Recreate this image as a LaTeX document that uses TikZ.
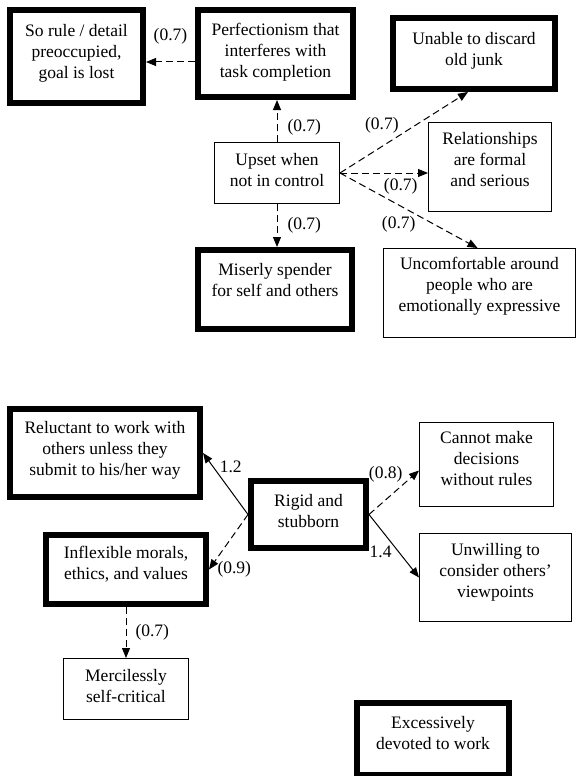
\documentclass[tikz,border=0pt]{standalone}
\usepackage{fontspec}
\setmainfont{Liberation Serif}
\usetikzlibrary{arrows.meta,positioning}

\begin{document}
\begin{tikzpicture}[x=1pt, y=-1pt,
  every node/.style={font=\fontsize{17.5}{21}\selectfont},
  b/.style={draw, align=center, inner sep=0pt, line width=1pt},
  hb/.style={b, line width=6pt},
  lab/.style={inner sep=1pt},
  da/.style={line width=1pt, dash pattern=on 7pt off 4pt, -{Triangle[length=10pt,width=8pt]}},
  sa/.style={line width=1pt, -{Triangle[length=10pt,width=8pt]}}]
  \useasboundingbox (0,0) rectangle (576,776);

  % upper cluster
  \node[hb, minimum width=133pt, minimum height=93pt, text depth=10pt] (rule) at (76.5,56.5) {So rule / detail\\preoccupied,\\goal is lost};
  \node[hb, minimum width=155pt, minimum height=87pt, text depth=6pt] (perf) at (275.5,53.5) {Perfectionism that\\interferes with\\task completion};
  \node[hb, minimum width=162pt, minimum height=71pt, text depth=10pt] (junk) at (474,53.5) {Unable to discard\\old junk};
  \node[b, minimum width=125pt, minimum height=61pt, text depth=6pt] (upset) at (277,173) {Upset when\\not in control};
  \node[b, minimum width=123pt, minimum height=89pt, text depth=16pt] (rel) at (490,167) {Relationships\\are formal\\and serious};
  \node[hb, minimum width=154pt, minimum height=79pt, text depth=20pt] (miser) at (275,289.5) {Miserly spender\\for self and others};
  \node[b, minimum width=192pt, minimum height=89pt, text depth=18pt] (uncomf) at (479.5,293) {Uncomfortable around\\people who are\\emotionally expressive};

  \draw[da] ([yshift=-8.5pt]perf.west) -- ([yshift=-5.5pt]rule.east) node[midway, above=16pt, lab] {(0.7)};
  \draw[da] (upset.north) -- (upset.north |- perf.south) node[pos=0.35, right=9pt, lab] {(0.7)};
  \draw[da] (upset.east) -- ([xshift=-6pt]junk.south) node[pos=0.47, anchor=south east, lab] {(0.7)};
  \draw[da] (upset.east) -- (upset.east -| rel.west) node[pos=0.69, below=4pt, lab] {(0.7)};
  \draw[da] (upset.east) -- ([xshift=-2pt]uncomf.north) node[pos=0.56, anchor=north east, lab] {(0.7)};
  \draw[da] (upset.south) -- (upset.south |- miser.north) node[midway, right=9pt, lab] {(0.7)};

  % lower cluster
  \node[hb, minimum width=190pt, minimum height=88pt, text depth=10pt] (reluct) at (105,453) {Reluctant to work with\\others unless they\\submit to his/her way};
  \node[hb, minimum width=160pt, minimum height=69pt, text depth=14pt] (inflex) at (126,569.5) {Inflexible morals,\\ethics, and values};
  \node[hb, minimum width=115pt, minimum height=67pt, text depth=8pt] (rigid) at (308.5,514.5) {Rigid and\\stubborn};
  \node[b, minimum width=134pt, minimum height=84pt, text depth=12pt] (cannot) at (486.5,464.5) {Cannot make\\decisions\\without rules};
  \node[b, minimum width=152pt, minimum height=88pt, text depth=14pt] (unwill) at (495.5,577.5) {Unwilling to\\consider others'\\viewpoints};
  \node[b, minimum width=125pt, minimum height=61pt, text depth=6pt] (merci) at (126,689) {Mercilessly\\self-critical};
  \node[hb, minimum width=152pt, minimum height=72pt, text depth=12pt] (excess) at (433,739) {Excessively\\devoted to work};

  \draw[sa] (rigid.west) -- (reluct.east) node[pos=0.66, anchor=south west, lab] {1.2};
  \draw[da] (rigid.west) -- (inflex.east) node[pos=1, anchor=west, xshift=7pt, lab] {(0.9)};
  \draw[da] (rigid.east) -- ([yshift=-6pt]cannot.west) node[pos=0.7, anchor=south east, lab] {(0.8)};
  \draw[sa] (rigid.east) -- (unwill.west) node[pos=0.48, anchor=north east, lab] {1.4};
  \draw[da] (inflex.south) -- (merci.north) node[midway, right=8pt, lab] {(0.7)};
\end{tikzpicture}
\end{document}
